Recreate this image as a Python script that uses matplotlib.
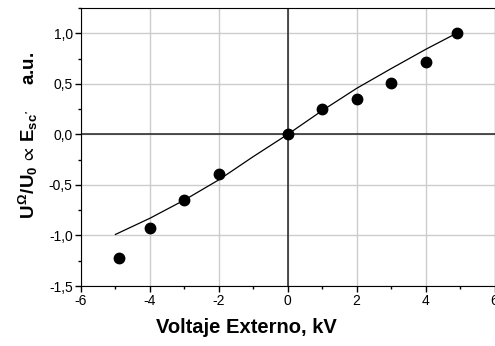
import matplotlib
matplotlib.use("Agg")
from matplotlib import pyplot as plt
from matplotlib.ticker import MultipleLocator, FuncFormatter

plt.rcParams['font.family'] = ['Liberation Sans', 'DejaVu Sans']
plt.rcParams['mathtext.fontset'] = 'custom'
plt.rcParams['mathtext.rm'] = 'Liberation Sans:bold'
plt.rcParams['mathtext.it'] = 'Liberation Sans:bold'
plt.rcParams['mathtext.bf'] = 'Liberation Sans:bold'
plt.rcParams['mathtext.fallback'] = 'stixsans'

# measured points
volt = [-4.9, -4.0, -3.0, -2.0, 0.0, 1.0, 2.0, 3.0, 4.0, 4.9]
signal = [-1.22, -0.93, -0.65, -0.39, 0.0, 0.255, 0.345, 0.51, 0.72, 1.0]

# model curve
volt_fit = [-5.0, -4.0, -3.0, -2.0, -1.0, 0.0, 1.0, 2.0, 3.0, 4.0, 4.9]
signal_fit = [-0.99, -0.83, -0.65, -0.45, -0.22, 0.0, 0.235, 0.455, 0.65, 0.84, 1.0]

fig = plt.figure(figsize=(4.95, 3.46), dpi=100)
ax = fig.add_axes([0.1636, 0.1734, 0.8354, 0.8036])

ax.grid(True, which='major', color='#cccccc', lw=1, zorder=1)
ax.axhline(0, color='#222222', lw=1.1, zorder=2)
ax.axvline(0, color='#222222', lw=1.1, zorder=2)

ax.plot(volt_fit, signal_fit, color='black', lw=0.9, zorder=3)
ax.plot(volt, signal, 'o', color='black', ms=7.5, zorder=4)

ax.set_xlim(-6, 6)
ax.set_ylim(-1.5, 1.25)
ax.xaxis.set_major_locator(MultipleLocator(2))
ax.xaxis.set_minor_locator(MultipleLocator(1))
ax.yaxis.set_major_locator(MultipleLocator(0.5))
ax.yaxis.set_minor_locator(MultipleLocator(0.25))
ax.yaxis.set_major_formatter(FuncFormatter(lambda v, p: f'{v:.1f}'.replace('.', ',')))
ax.xaxis.set_major_formatter(FuncFormatter(lambda v, p: f'{v:g}'))
ax.tick_params(which='major', direction='out', length=4, width=1, labelsize=10, pad=2)
ax.tick_params(which='minor', direction='out', length=2.5, width=1)

ax.set_xlabel('Voltaje Externo, kV', fontsize=14.5, fontweight='bold')
ax.xaxis.set_label_coords(0.40, -0.115)
ax.set_ylabel(r"$U^{\Omega}/U_0\,\propto\,E_{sc'}$     a.u.", fontsize=13.5,
              fontweight='bold')
ax.yaxis.set_label_coords(-0.10, 0.54)

fig.savefig('out.png', dpi=100)
